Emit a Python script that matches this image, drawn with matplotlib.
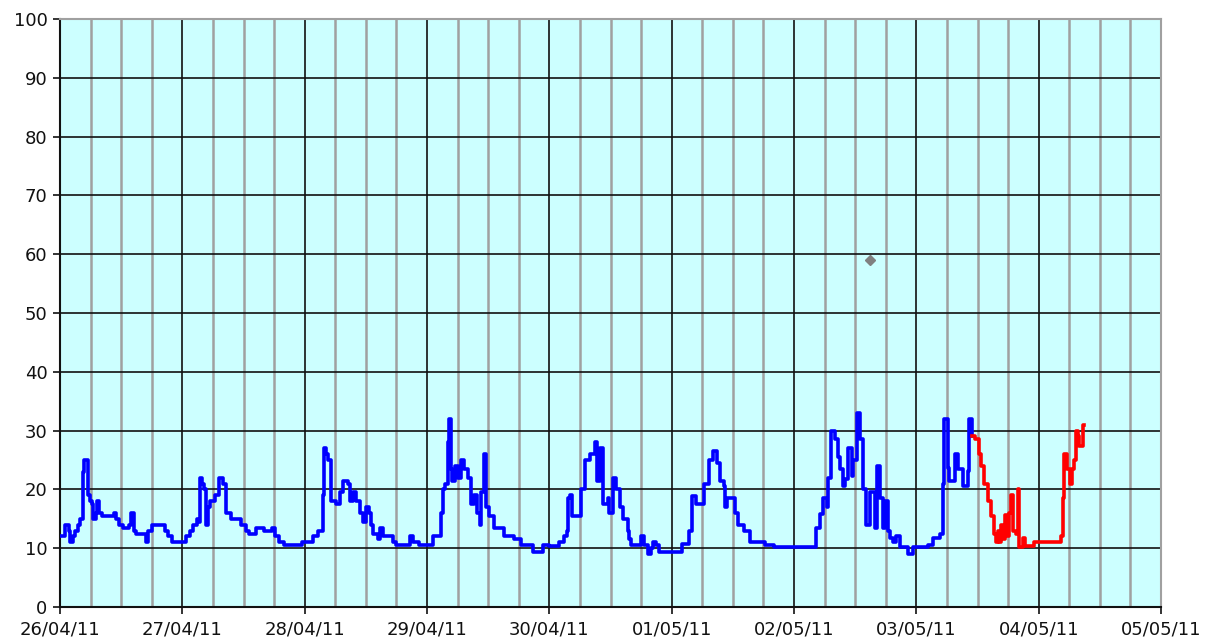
import matplotlib
matplotlib.use("Agg")
import matplotlib.pyplot as plt
import numpy as np
from matplotlib.ticker import MultipleLocator

# ---- data (hours since 26/04/11 00:00) ----
day_labels = ["26/04/11", "27/04/11", "28/04/11", "29/04/11", "30/04/11",
              "01/05/11", "02/05/11", "03/05/11", "04/05/11", "05/05/11"]

blue_hours = [0, 1, 1.7, 2, 2.5, 3, 3.5, 4, 4.6, 4.8, 5.4, 5.8, 6.2, 6.5, 7, 7.3, 7.6, 8.2, 10.5, 11, 11.5,
              12.4, 13.5, 14, 14.5, 15, 16.8, 17.2, 18, 20.6, 21.2, 22,
              24.8, 25.5, 26.1, 26.8, 27.3, 27.5, 27.8, 28.2, 28.6, 29, 29.5, 30.4, 31.2, 32, 32.5, 33.5,
              35.6, 36.5, 37, 38.5, 40, 41.5, 42.2, 43, 44, 47.5,
              49.6, 50.6, 51.6, 51.7, 52.2, 52.6, 53.2, 54.2, 55, 55.5, 56.5, 56.8, 57.5, 58.1, 58.8, 59.4,
              60.1, 60.7, 61.1, 61.4, 62.4, 62.7, 63.4, 65.3, 66, 68.6, 69.2, 70.5,
              73.2, 74.5, 74.8, 75.1, 75.5, 76.1, 76.4, 76.7, 77, 77.5, 78, 78.6, 79.3, 80, 80.6, 81.3, 81.9,
              82.3, 82.6, 83.2, 83.6, 84.2, 85.2, 87.1, 89.1, 90.4, 92.7, 94.7,
              96, 97.8, 98.8, 99.4, 99.75, 100, 100.4, 102, 102.3, 103, 104, 104.9, 105.3, 105.9, 106.5,
              107.5, 107.8, 108.5, 109.1, 109.8, 110.4, 111.4, 111.7, 112, 114, 114.6, 115.3, 115.9, 116.3,
              117, 117.6,
              121.8, 122.1, 123.4, 124, 124.7, 126.3, 127.3, 128.2, 128.9, 129.5, 130.2, 130.5, 130.8, 132.4,
              133.1, 134.1, 135.4, 138.3, 140,
              148.4, 149.1, 149.7, 150.4, 150.7, 151.2, 152, 152.7, 153, 153.7, 154, 154.6, 155.3, 155.6,
              156.3, 156.9, 157.6, 158.2, 158.9, 159.9, 160.2, 160.8, 161.5, 161.8, 162.5, 162.8, 163.4, 164,
              164.7, 166.4, 167.4,
              170.3, 171.3, 172.6, 173.2, 173.5, 174.2, 174.5, 175.5, 176.2, 177.1, 178.1, 178.4, 178.9]
blue_values = [12, 14, 13, 11, 12, 13, 14, 15, 23, 25, 19, 18, 17.5, 15, 16, 18, 16, 15.5, 16, 15, 14,
               13.5, 14, 16, 13, 12.5, 11, 13, 14, 13, 12, 11,
               12, 13, 14, 15, 14.5, 22, 21, 20, 14, 17, 18, 19, 22, 21, 16, 15,
               14, 13, 12.5, 13.5, 13, 13.5, 12, 11, 10.5, 11,
               12, 13, 19, 27, 26, 25, 18, 17.5, 19.5, 21.5, 21, 18, 19.5, 18, 16, 14.5,
               17, 16, 14, 12.5, 11.5, 13.5, 12, 11, 10.5, 12, 11, 10.5,
               12, 12, 16, 20, 21, 28, 32, 23.5, 21.5, 24, 22, 25, 23.5, 22, 17.5, 19, 16,
               14, 19.5, 26, 17, 15.5, 13.5, 12, 11.5, 10.5, 9.3, 10.5,
               10.3, 11, 12, 13, 18.5, 19, 15.5, 15.5, 20, 25, 26, 28, 21.5, 27, 17.5,
               18.5, 16, 22, 20, 17, 15, 13, 11.5, 10.5, 12, 10.5, 9, 10, 11,
               10.5, 9.3,
               9.3, 10.75, 13, 18.8, 17.5, 21, 25, 26.5, 24.5, 21.5, 20.5, 17, 18.5, 16,
               14, 13, 11, 10.6, 10.2,
               13.5, 15.8, 18.5, 17, 22, 30, 28.5, 25.5, 23.5, 20.5, 21.7, 27, 22.3, 25,
               33, 28.5, 20, 14, 19.5, 13.5, 24, 18.5, 13.5, 18, 13, 11.8, 11, 12,
               10.2, 9, 10.2,
               10.6, 11.8, 12.4, 21, 32, 23.7, 21.4, 26, 23.5, 20.6, 23.2, 32, 29]

red_hours = [179, 179.5, 180.2, 180.7, 181.3, 182, 182.7, 183.3, 183.6, 184, 184.3, 184.7, 185, 185.3,
             185.8, 186.2, 186.6, 186.9, 187.5, 187.9, 188.1, 188.9, 189.3, 191, 195.4, 196.4, 196.7,
             197, 197.5, 198.2, 198.6, 199, 199.3, 199.7, 200, 200.7, 200.9]
red_values = [29, 28.5, 26, 24, 21, 18, 15.5, 12.5, 11, 13, 11, 14, 11.5, 15.7,
              12, 16, 19, 13, 12.4, 20, 10.2, 11.8, 10.3, 11, 11, 12, 18.5,
              26, 23.5, 21, 23.5, 25, 30, 29, 27.3, 31, 31]

point_hours = [158.9]
point_values = [59]

# ---- figure ----
W, H = 1206, 641
fig = plt.figure(figsize=(W / 100, H / 100), dpi=100)
ax = fig.add_axes([60 / W, 34 / H, (1161 - 60) / W, (607 - 19) / H])
ax.set_facecolor("#CCFFFF")

ax.set_xlim(0, 24 * (len(day_labels) - 1))
ax.set_ylim(0, 100)

# grid
ax.xaxis.set_major_locator(MultipleLocator(24))
ax.xaxis.set_minor_locator(MultipleLocator(6))
ax.yaxis.set_major_locator(MultipleLocator(10))
ax.grid(which="minor", axis="x", color="#A0A0A0", linewidth=1.8, zorder=0)
ax.grid(which="major", axis="x", color="#111111", linewidth=1.2, zorder=0)
ax.grid(which="major", axis="y", color="#111111", linewidth=1.2, zorder=0)
ax.set_axisbelow(True)

ax.step(blue_hours, blue_values, where="post", color="#0000FF", linewidth=2.6, zorder=3)
ax.step(red_hours, red_values, where="post", color="#FF0000", linewidth=2.6, zorder=3)
ax.plot(point_hours, point_values, linestyle="none", marker="D", markersize=5,
        color="#808080", zorder=4)

ax.set_xticks(np.arange(len(day_labels)) * 24)
ax.set_xticklabels(day_labels)
ax.tick_params(axis="x", which="minor", length=0)
ax.tick_params(axis="both", which="major", length=5, width=1.2, color="#111111",
               labelsize=13, labelcolor="#111111")
ax.tick_params(axis="x", which="major", pad=5)
ax.tick_params(axis="y", which="major", pad=4)

for side in ["left", "bottom"]:
    ax.spines[side].set_color("#111111")
    ax.spines[side].set_linewidth(1.5)
for side in ["top", "right"]:
    ax.spines[side].set_color("#A0A0A0")
    ax.spines[side].set_linewidth(1.5)

fig.savefig("out.png", dpi=100, facecolor="white")
